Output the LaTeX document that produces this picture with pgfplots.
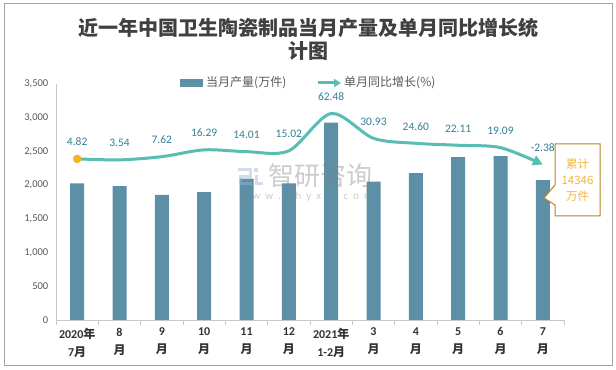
\documentclass[border=0pt]{standalone}
\usepackage{pgfplots}
\pgfplotsset{compat=1.18}
\usepackage{pgfplotstable}
\usepackage{fontspec}
\setmainfont{Carlito}
\newfontfamily\cjk{Noto Sans CJK SC}
\usetikzlibrary{arrows.meta}
\definecolor{barcol}{RGB}{93,144,166}
\definecolor{linecol}{RGB}{88,189,178}
\definecolor{labelcol}{RGB}{52,128,148}
\definecolor{dotcol}{RGB}{245,180,30}
\definecolor{callborder}{RGB}{184,134,30}
\definecolor{calltext}{RGB}{245,180,60}
\definecolor{titlecol}{RGB}{64,64,64}
\definecolor{tickgray}{RGB}{89,89,89}
\definecolor{axisgray}{RGB}{200,200,200}
\definecolor{bordergray}{RGB}{165,165,165}
\definecolor{logocol}{RGB}{160,178,212}

\pgfplotstableread{
x y
0 2027
1 1987
2 1854
3 1898
4 2096
5 2027
6 2926
7 2051
8 2180
9 2417
10 2432
11 2076
}\bars

\pgfplotstableread{
x y label
0 4.82 4.82
1 3.54 3.54
2 7.62 7.62
3 16.29 16.29
4 14.01 14.01
5 15.02 15.02
6 62.48 62.48
7 30.93 30.93
8 24.60 24.60
9 22.11 22.11
10 19.09 19.09
11 -2.38 -2.38
}\growth

\begin{document}
\begin{tikzpicture}
\path[use as bounding box] (0,0) rectangle (616bp,370bp);
\fill[white] (0,0) rectangle (616bp,370bp);
\draw[bordergray, line width=1bp] (4bp,4bp) rectangle (612bp,366bp);

\node[align=center, text=titlecol, font=\cjk\bfseries\fontsize{20bp}{23bp}\selectfont] at (308bp,331bp)
 {近一年中国卫生陶瓷制品当月产量及单月同比增长统\\计图};

% legend
\fill[barcol] (180bp,283bp) rectangle (203bp,291bp);
\node[anchor=west, inner sep=0pt, text=tickgray, font=\cjk\fontsize{12bp}{14bp}\selectfont] at (206bp,287bp) {当月产量(万件)};
\draw[linecol, line width=3bp, -{Triangle[length=7bp,width=8bp]}] (318bp,287bp) -- (341bp,287bp);
\node[anchor=west, inner sep=0pt, text=tickgray, font=\cjk\fontsize{12bp}{14bp}\selectfont] at (344bp,287bp) {单月同比增长(\%)};

\begin{axis}[
  at={(56bp,50bp)}, anchor=south west, scale only axis,
  width=508bp, height=236bp,
  xmin=-0.5, xmax=11.5, ymin=0, ymax=3500,
  axis y line*=left, axis x line*=bottom,
  axis line style={draw=axisgray, line width=0.8bp},
  ytick={0,500,...,3500},
  ytick style={draw=none},
  /pgf/number format/assume math mode=true,
  /pgf/number format/1000 sep={,},
  yticklabel style={font=\fontsize{10.5bp}{12bp}\selectfont, text=tickgray},
  xtick={0,...,11},
  xticklabels={{2020\cjk{年}\\7\cjk{月}},{8\\\cjk{月}},{9\\\cjk{月}},{10\\\cjk{月}},{11\\\cjk{月}},{12\\\cjk{月}},{2021\cjk{年}\\1-2\cjk{月}},{3\\\cjk{月}},{4\\\cjk{月}},{5\\\cjk{月}},{6\\\cjk{月}},{7\\\cjk{月}}},
  xticklabel style={align=center, font=\bfseries\fontsize{12bp}{18bp}\selectfont, text=black!80},
  major x tick style={draw=none},
  minor xtick={-0.5,0.5,...,11.5},
  minor tick length=5bp,
  minor x tick style={draw=axisgray, line width=0.8bp},
  tick align=outside,
  ybar, bar width=14bp,
]
\addplot[fill=barcol, draw=none] table[x=x,y=y]{\bars};
\end{axis}

% watermark
\begin{scope}[opacity=0.45]
\draw[logocol, line width=3bp] (238bp,200bp) -- (250bp,200bp) -- (250bp,193bp) -- (240bp,193bp) -- (240bp,186bp) -- (252bp,186bp);
\fill[logocol] (254bp,198bp) rectangle (258bp,202bp);
\draw[logocol, line width=3bp] (256bp,195bp) -- (256bp,186bp) -- (263bp,186bp);
\end{scope}
\node[text=gray, opacity=0.4, font=\cjk\fontsize{26bp}{28bp}\selectfont] at (320bp,194bp) {智研咨询};
\node[anchor=west, text=gray, opacity=0.4, font=\fontsize{11bp}{12bp}\selectfont] at (236bp,173bp) {w\hspace{5bp}w\hspace{5bp}w\hspace{5bp}.\hspace{5bp}c\hspace{5bp}h\hspace{5bp}y\hspace{5bp}x\hspace{5bp}x\hspace{5bp}.\hspace{5bp}c\hspace{5bp}o\hspace{5bp}m};

\begin{axis}[
  at={(56bp,50bp)}, anchor=south west, scale only axis,
  width=508bp, height=236bp,
  xmin=-0.5, xmax=11.5, ymin=-200, ymax=100,
  hide axis, clip=false,
]
\addplot[linecol, line width=3bp, smooth, mark=none, -{Triangle[length=10bp,width=10bp]},
  nodes near coords, point meta=explicit symbolic,
  every node near coord/.append style={font=\fontsize{11.5bp}{13bp}\selectfont, text=labelcol, anchor=south, yshift=8bp}]
  table[x=x,y=y,meta=label]{\growth};
\addplot[only marks, mark=*, mark size=4bp, color=dotcol] coordinates {(0,4.82)};
\end{axis}

% callout
\draw[callborder, fill=white, line width=1bp] (555bp,226bp) -- (600bp,226bp) -- (600bp,154bp) -- (555bp,154bp) -- (555bp,165bp) -- (544bp,172bp) -- (555bp,185bp) -- cycle;
\node[align=center, text=calltext, font=\cjk\fontsize{11.5bp}{16bp}\selectfont] at (577.5bp,190bp) {累计\\14346\\万件};
\end{tikzpicture}
\end{document}
